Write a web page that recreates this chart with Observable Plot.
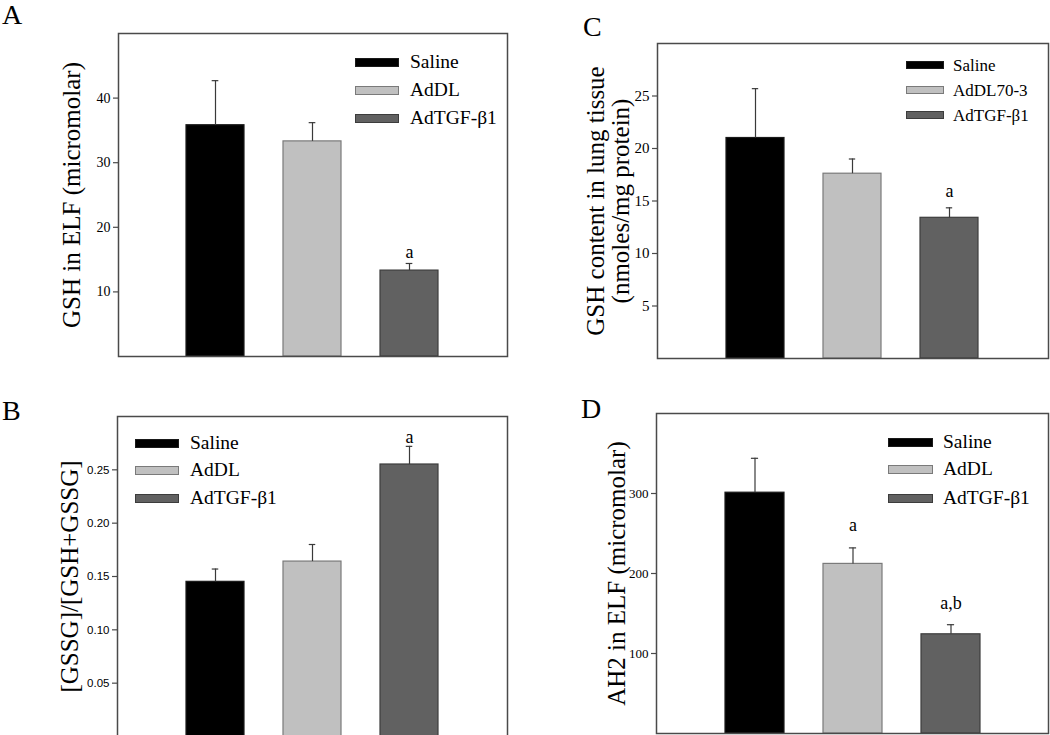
<!DOCTYPE html>
<html>
<head>
<meta charset="utf-8">
<script src="https://cdn.jsdelivr.net/npm/d3@7"></script>
<script src="https://cdn.jsdelivr.net/npm/@observablehq/plot@0.6"></script>
<style>
  html, body { margin: 0; padding: 0; background: #fff; }
  #page { position: relative; width: 1050px; height: 735px; overflow: hidden; background: #fff; }
  .abs { position: absolute; }
  .letter { position: absolute; font-family: "Liberation Serif", serif; font-size: 28px; line-height: 1; color: #000; }
  .leg-text { position: absolute; font-family: "Liberation Serif", serif; color: #000; white-space: nowrap; line-height: 1; transform: translateY(-50%); }
  .swatch { position: absolute; box-sizing: border-box; }
</style>
</head>
<body>
<div id="page"></div>
<script>
// ---------- data ----------
const groupsABD = ["Saline", "AdDL", "AdTGF-β1"];
const groupsC = ["Saline", "AdDL70-3", "AdTGF-β1"];

// Panel A: GSH in ELF (micromolar)
const meanA = [35.8, 33.3, 13.3];
const errA = [6.9, 2.9, 1.1];
const noteA = ["", "", "a"];
const noteYA = [null, null, 16.2];
const ticksA = [10, 20, 30, 40];

// Panel B: [GSSG]/[GSH+GSSG]
const meanB = [0.145, 0.164, 0.255];
const errB = [0.012, 0.016, 0.017];
const noteB = ["", "", "a"];
const noteYB = [null, null, 0.281];
const ticksB = [0.05, 0.10, 0.15, 0.20, 0.25];

// Panel C: GSH content in lung tissue (nmoles/mg protein)
const meanC = [21.0, 17.6, 13.4];
const errC = [4.7, 1.4, 0.95];
const noteC = ["", "", "a"];
const noteYC = [null, null, 15.9];
const ticksC = [5, 10, 15, 20, 25];

// Panel D: AH2 in ELF (micromolar)
const meanD = [301, 212, 124];
const errD = [43, 20, 12];
const noteD = ["", "a", "a,b"];
const noteYD = [null, 260, 163];
const ticksD = [100, 200, 300];

// ---------- styles ----------
const barFills = ["#000000", "#c0c0c0", "#616161"];
const barStrokes = ["#1a1a1a", "#7a7a7a", "#3c3c3c"];
const SERIF = "Liberation Serif, Times New Roman, serif";
const SANS = "Liberation Sans, Arial, sans-serif";
const AXIS = "#4a4a4a";

const page = document.getElementById("page");

function panel(cfg) {
  const [l, t, r, b] = cfg.frame;
  const ml = 115, mr = 4, mt = 10, mb = 4;
  const fw = r - l, fh = b - t;
  const step = fw / (3 - 0.4 + 2 * 0.7);
  const bw = step * 0.6;
  const capW = 7;
  const inset = (bw - capW) / 2;

  const data = cfg.groups.map((g, i) => ({
    group: g, mean: cfg.means[i], top: cfg.means[i] + cfg.errs[i],
    fill: barFills[i], stroke: barStrokes[i]
  }));
  const notes = cfg.groups.map((g, i) => ({group: g, text: cfg.notes[i], y: cfg.noteY[i]}))
    .filter(d => d.text);

  const svg = Plot.plot({
    width: ml + fw + mr,
    height: mt + fh + mb,
    marginLeft: ml, marginRight: mr, marginTop: mt, marginBottom: mb,
    x: {type: "band", domain: cfg.groups, paddingInner: 0.4, paddingOuter: 0.7, axis: null},
    y: {domain: [0, cfg.yMax], axis: null},
    color: {type: "identity"},
    style: {fontFamily: SERIF, fontSize: "13px", background: "transparent", overflow: "visible", color: "#000"},
    marks: [
      Plot.barY(data, {x: "group", y: "mean", fill: "fill", stroke: "stroke", strokeWidth: 1.2}),
      Plot.ruleX(data, {x: "group", y1: "mean", y2: "top", stroke: "#3a3a3a", strokeWidth: 1.2}),
      Plot.tickY(data, {x: "group", y: "top", stroke: "#3a3a3a", strokeWidth: 1.2, insetLeft: inset, insetRight: inset}),
      Plot.text(notes, {x: "group", y: "y", text: "text", fontSize: 18, fontFamily: SERIF, fill: "#000"}),
      // y ticks (outside the frame)
      Plot.ruleY(cfg.ticks, {y: d => d, insetRight: fw - 5, dx: -5, stroke: AXIS, strokeWidth: 1.2}),
      // y tick labels
      Plot.text(cfg.ticks, {
        y: d => d, text: d => cfg.tickFormat(d), frameAnchor: "left", textAnchor: "end", dx: -8,
        fontSize: cfg.tickFontSize, fontFamily: cfg.tickFont, fill: "#000"
      }),
      Plot.text([cfg.ylabel], {
        text: d => d, frameAnchor: "left", textAnchor: "middle", rotate: -90, dx: cfg.labelDx,
        fontSize: 25, fontFamily: SERIF, lineHeight: 1, fill: "#000"
      }),
      Plot.frame({stroke: AXIS, strokeWidth: 1.5})
    ]
  });
  svg.classList.add("abs");
  svg.style.left = (l - ml) + "px";
  svg.style.top = (t - mt) + "px";
  page.appendChild(svg);

  // panel letter
  const let_ = document.createElement("div");
  let_.className = "letter";
  let_.textContent = cfg.letter;
  let_.style.left = cfg.letterPos[0] + "px";
  let_.style.top = cfg.letterPos[1] + "px";
  page.appendChild(let_);

  // legend
  const {sx, tx, ys, sw, sh, fs} = cfg.legend;
  cfg.groups.forEach((g, i) => {
    const s = document.createElement("div");
    s.className = "swatch";
    s.style.left = sx + "px";
    s.style.top = (ys[i] - sh / 2) + "px";
    s.style.width = sw + "px";
    s.style.height = sh + "px";
    s.style.background = barFills[i];
    s.style.border = "1px solid " + barStrokes[i];
    page.appendChild(s);
    const tt = document.createElement("div");
    tt.className = "leg-text";
    tt.textContent = g;
    tt.style.left = tx + "px";
    tt.style.top = ys[i] + "px";
    tt.style.fontSize = fs + "px";
    page.appendChild(tt);
  });
}

panel({
  letter: "A", letterPos: [2, 1],
  groups: groupsABD, means: meanA, errs: errA, notes: noteA, noteY: noteYA,
  yMax: 50, ticks: ticksA, tickFormat: d3.format("d"), tickFont: SERIF, tickFontSize: 14,
  frame: [118, 33, 507, 356], ylabel: "GSH in ELF (micromolar)", labelDx: -47,
  legend: {sx: 355, tx: 410, ys: [62, 90, 118], sw: 44, sh: 9, fs: 19.5}
});

panel({
  letter: "B", letterPos: [2, 396.5],
  groups: groupsABD, means: meanB, errs: errB, notes: noteB, noteY: noteYB,
  yMax: 0.30, ticks: ticksB, tickFormat: d3.format(".2f"), tickFont: SANS, tickFontSize: 11.5,
  frame: [117, 416, 507, 736], ylabel: "[GSSG]/[GSH+GSSG]", labelDx: -48,
  legend: {sx: 135, tx: 190, ys: [443, 470, 498], sw: 44, sh: 9, fs: 19.5}
});

panel({
  letter: "C", letterPos: [583, 12.5],
  groups: groupsC, means: meanC, errs: errC, notes: noteC, noteY: noteYC,
  yMax: 30, ticks: ticksC, tickFormat: d3.format("d"), tickFont: SERIF, tickFontSize: 15,
  frame: [657, 43, 1048, 358], ylabel: "GSH content in lung tissue\n(nmoles/mg protein)", labelDx: -49,
  legend: {sx: 906, tx: 953, ys: [65, 90, 115], sw: 38, sh: 8, fs: 17}
});

panel({
  letter: "D", letterPos: [581, 395],
  groups: groupsABD, means: meanD, errs: errD, notes: noteD, noteY: noteYD,
  yMax: 400, ticks: ticksD, tickFormat: d3.format("d"), tickFont: SERIF, tickFontSize: 13,
  frame: [656, 413, 1048, 733], ylabel: "AH2 in ELF (micromolar)", labelDx: -40,
  legend: {sx: 888, tx: 943, ys: [442, 469, 498], sw: 45, sh: 9, fs: 19.5}
});
</script>
</body>
</html>
